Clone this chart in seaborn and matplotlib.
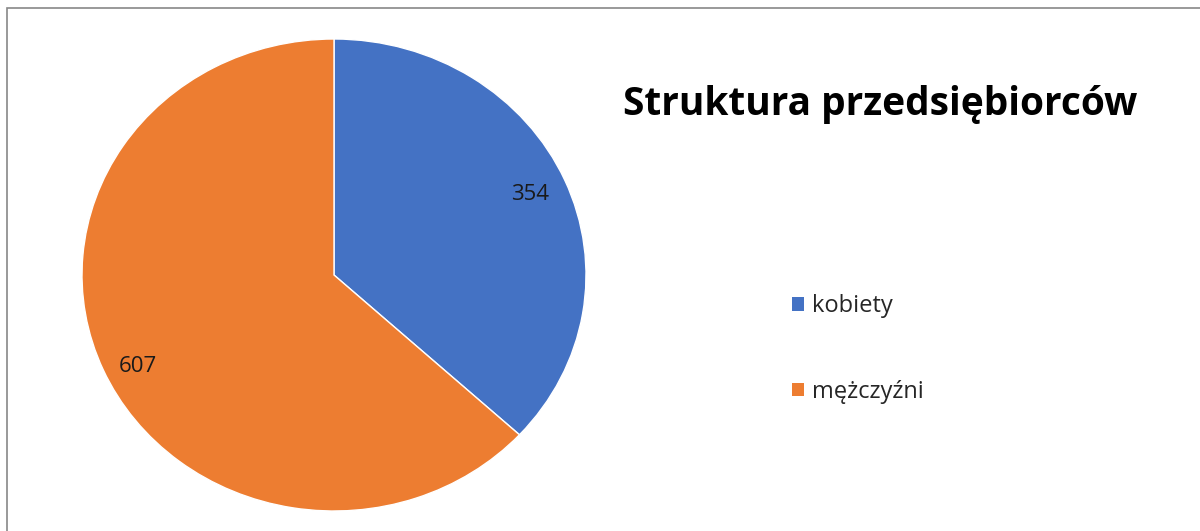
import matplotlib

matplotlib.use("Agg")
import matplotlib.pyplot as plt
import matplotlib.transforms as mtransforms
import seaborn as sns
from matplotlib.patches import Patch, Rectangle

# Data
categories = ["kobiety", "mężczyźni"]
values = [354, 607]
colors = ["#4472C4", "#ED7D31"]
title = "Struktura przedsiębiorców"

sns.set_theme(style="white")
plt.rcParams["font.family"] = ["Open Sans", "DejaVu Sans"]

fig = plt.figure(figsize=(12, 5.31), dpi=100)
fig.patch.set_facecolor("white")

# pie area (slightly wider than tall, like the source image)
ax = fig.add_axes([82 / 1200, 20 / 531, 504 / 1200, 472 / 531])
total = sum(values)
wedges, texts, autotexts = ax.pie(
    values,
    colors=colors,
    startangle=90,
    counterclock=False,
    radius=1.0,
    autopct=lambda p: f"{round(p * total / 100)}",
    pctdistance=0.85,
    wedgeprops={"edgecolor": "white", "linewidth": 1},
    textprops={"fontsize": 16, "color": "#1a1a1a"},
)
ax.set_xlim(-1, 1)
ax.set_ylim(-1, 1)
ax.set_aspect("auto")

# excel puts the bigger slice label a little lower
autotexts[1].set_transform(
    ax.transData + mtransforms.ScaledTranslation(0, -8 / 72, fig.dpi_scale_trans)
)

fig.text(
    880 / 1200, 1 - 104 / 531, title,
    ha="center", va="center", fontsize=28, fontweight="bold", color="black",
)

handles = [Patch(facecolor=c, edgecolor="none") for c in colors]
fig.legend(
    handles, categories,
    loc="center left",
    bbox_to_anchor=(771 / 1200, 1 - 349 / 531),
    frameon=False,
    fontsize=17,
    handlelength=0.5,
    handleheight=0.5,
    handletextpad=0.35,
    labelspacing=2.6,
)

# outer frame (only top/left visible)
fig.patches.append(
    Rectangle(
        (7 / 1200, -0.1), 1.2, 1 - 8 / 531 + 0.1,
        transform=fig.transFigure, fill=False, edgecolor="#888888", linewidth=1.2,
    )
)

fig.savefig("out.png", dpi=100, facecolor="white")
